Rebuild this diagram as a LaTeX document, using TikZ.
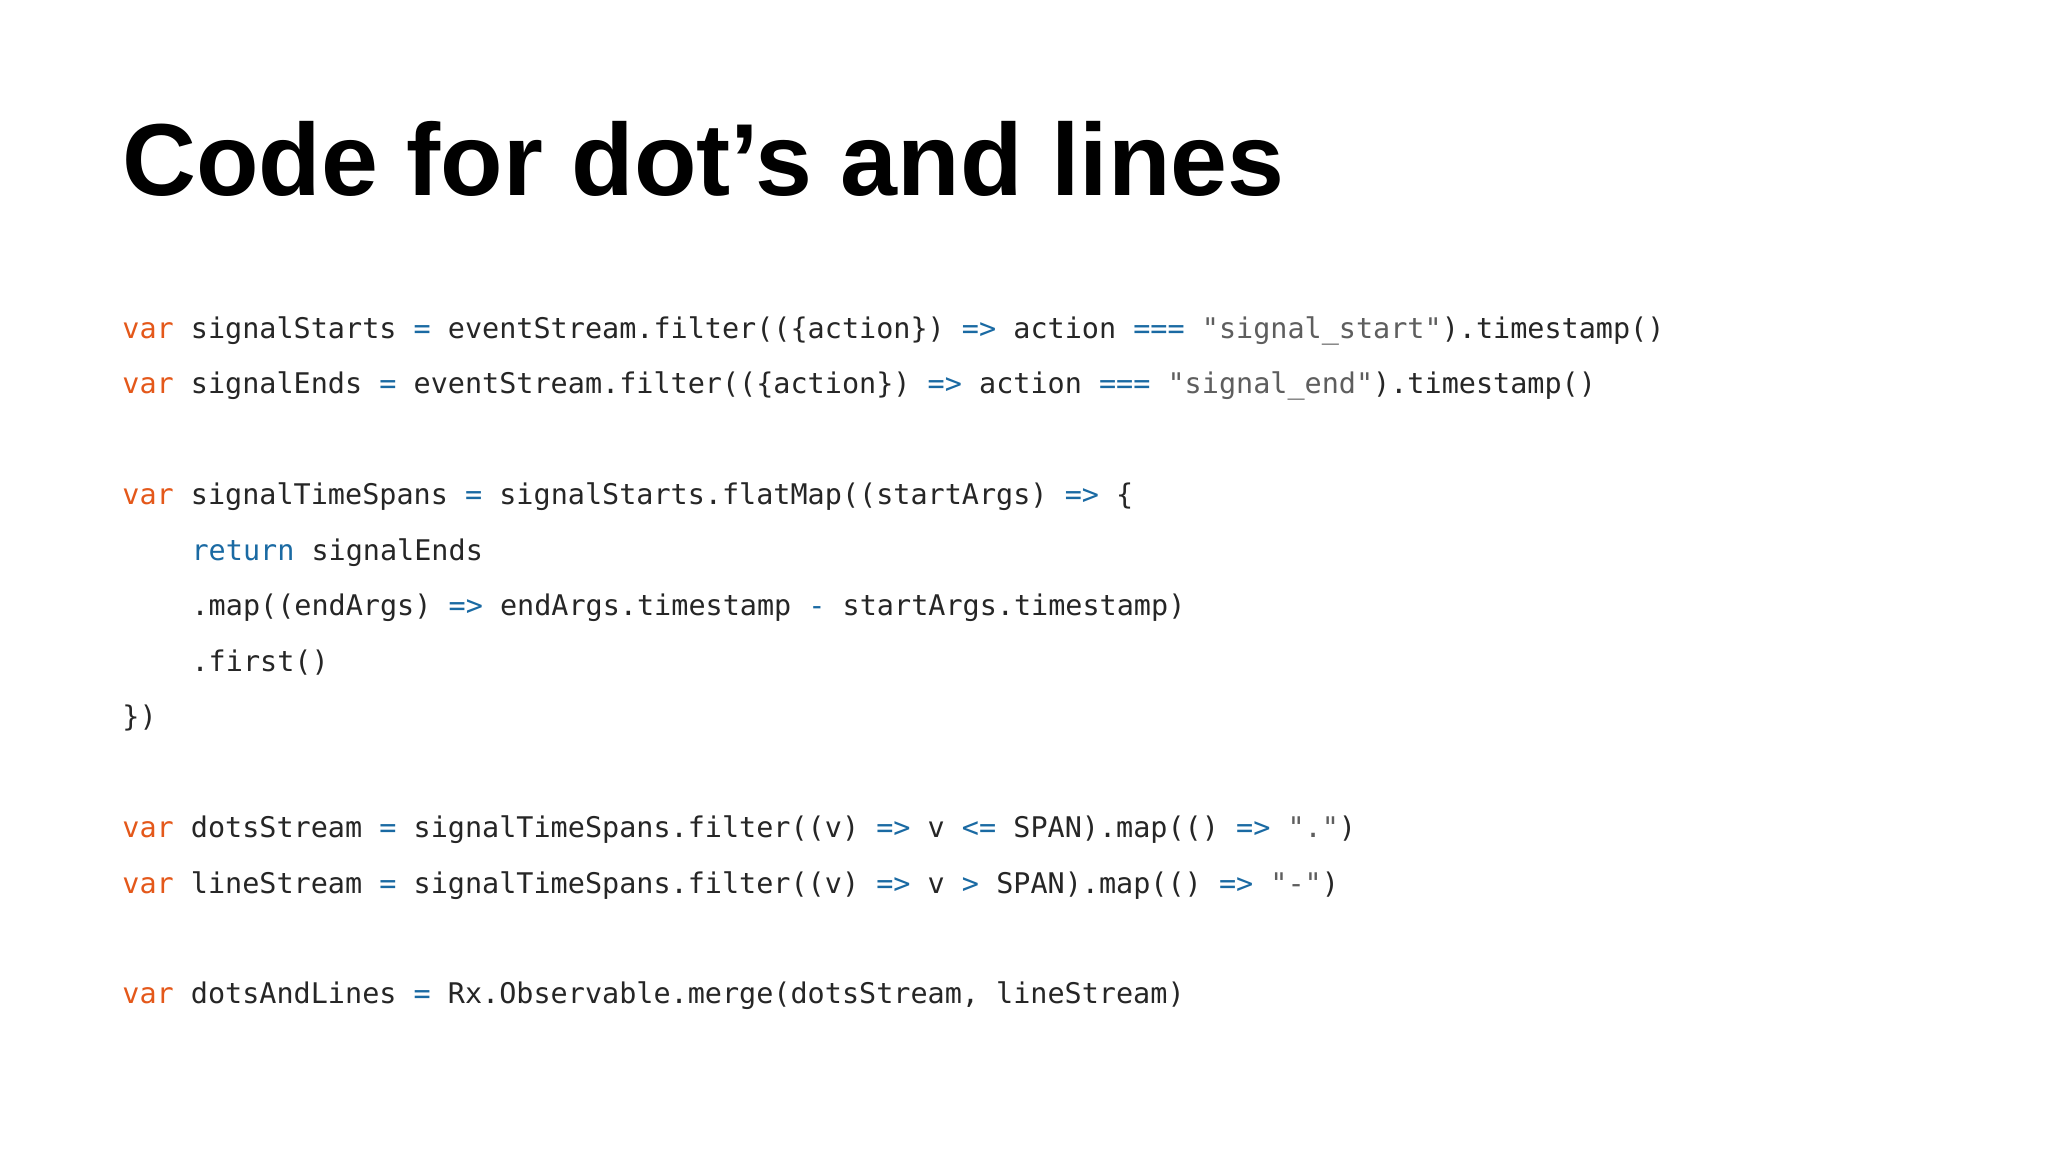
\documentclass[tikz,border=0pt]{standalone}
\usepackage{fontspec}
\setmainfont{Liberation Sans}
\setmonofont{DejaVu Sans Mono}
\definecolor{kwor}{HTML}{E4581A}
\definecolor{opbl}{HTML}{1A6AA3}
\definecolor{strg}{HTML}{5E5E5E}
\definecolor{txt}{HTML}{262626}
\newcommand{\cvar}{\textcolor{kwor}{var}}
\newcommand{\cop}[1]{\textcolor{opbl}{#1}}
\newcommand{\cstr}[1]{\textcolor{strg}{#1}}
\tikzset{codeline/.style={anchor=base west,inner sep=0pt,font=\ttfamily\fontsize{6.2pt}{7pt}\selectfont,text=txt}}
\begin{document}
\begin{tikzpicture}[x=0.1mm,y=-0.1mm]
\useasboundingbox[fill=white] (0,0) rectangle (1568,882);
\node[anchor=base west,inner sep=0pt,font=\bfseries\fontsize{22.3pt}{26pt}\selectfont] (title) at (93,150) {Code for dot’s and lines};
\node[codeline] (l1) at (93,259) {\cvar{} signalStarts \cop{=} eventStream.filter((\{action\}) \cop{=>} action \cop{===} \cstr{"signal\_start"}).timestamp()};
\node[codeline] (l2) at (93,301) {\cvar{} signalEnds \cop{=} eventStream.filter((\{action\}) \cop{=>} action \cop{===} \cstr{"signal\_end"}).timestamp()};
\node[codeline] (l3) at (93,386) {\cvar{} signalTimeSpans \cop{=} signalStarts.flatMap((startArgs) \cop{=>} \{};
\node[codeline] (l4) at (146,429) {\cop{return} signalEnds};
\node[codeline] (l5) at (146,471) {.map((endArgs) \cop{=>} endArgs.timestamp \cop{-} startArgs.timestamp)};
\node[codeline] (l6) at (146,514) {.first()};
\node[codeline] (l7) at (93,556) {\})};
\node[codeline] (l8) at (93,641) {\cvar{} dotsStream \cop{=} signalTimeSpans.filter((v) \cop{=>} v \cop{<=} SPAN).map(() \cop{=>} \cstr{"."})};
\node[codeline] (l9) at (93,684) {\cvar{} lineStream \cop{=} signalTimeSpans.filter((v) \cop{=>} v \cop{>} SPAN).map(() \cop{=>} \cstr{"-"})};
\node[codeline] (l10) at (93,768) {\cvar{} dotsAndLines \cop{=} Rx.Observable.merge(dotsStream, lineStream)};
\end{tikzpicture}
\end{document}
